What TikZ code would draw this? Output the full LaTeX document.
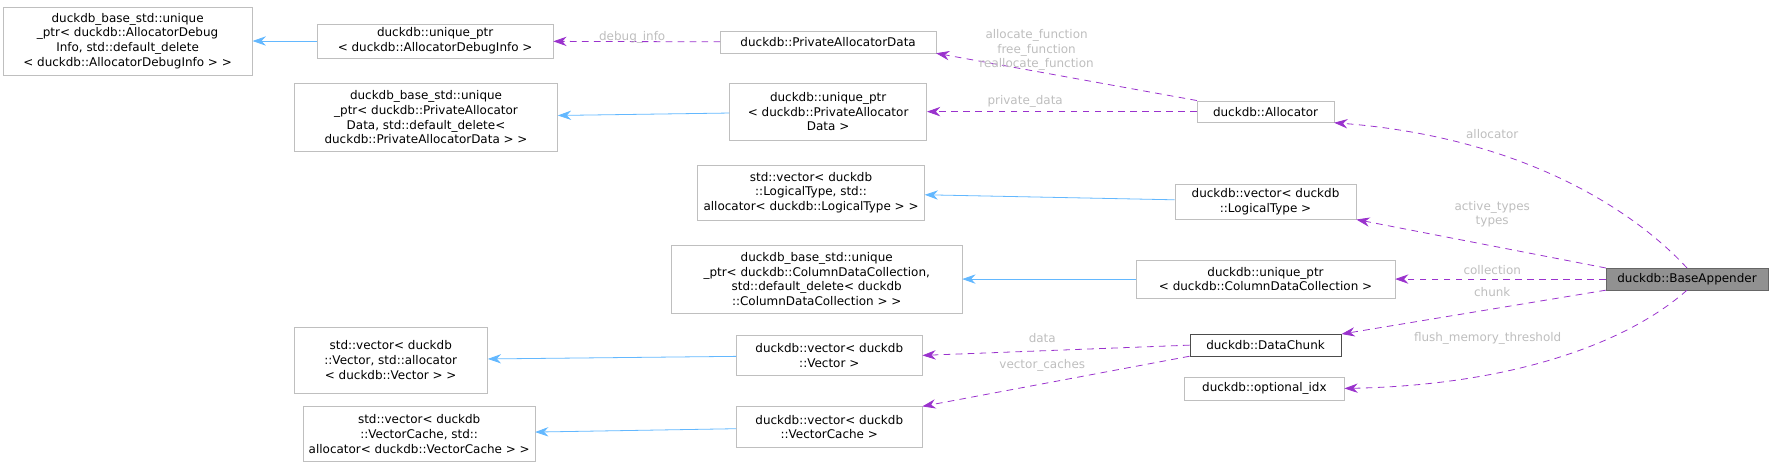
\documentclass[tikz,border=0pt]{standalone}
\usepackage{fontspec}
\setmainfont{DejaVu Sans}
\usepackage{tikz}
\usetikzlibrary{arrows.meta}
\definecolor{boxgray}{RGB}{191,191,191}
\definecolor{inherit}{RGB}{99,184,255}
\definecolor{usage}{RGB}{154,50,205}
\definecolor{lblgray}{RGB}{190,190,190}

\tikzset{
 cls/.style={draw=boxgray, fill=white, align=center, inner sep=1pt, font=\fontsize{9pt}{11pt}\selectfont},
 base/.style={-{Stealth[length=10pt,width=7pt]}, inherit, line width=0.6pt},
 use/.style={-{Stealth[length=10pt,width=7pt]}, usage, dashed, dash pattern=on 5pt off 4pt, line width=0.6pt},
 lbl/.style={text=lblgray, align=center, font=\fontsize{9pt}{11pt}\selectfont}
}

\begin{document}
\begin{tikzpicture}[x=0.0301cm, y=-0.0301cm]
\useasboundingbox (0,0) rectangle (1553,406.5);

% classes
\path
(112,36) node[cls, minimum width=219*0.0301cm, minimum height=60*0.0301cm](dbgbase) {duckdb\_base\_std::unique\\\_ptr< duckdb::AllocatorDebug\\Info, std::default\_delete\\< duckdb::AllocatorDebugInfo > >}
(382,36) node[cls, minimum width=207*0.0301cm, minimum height=30*0.0301cm](dbgptr) {duckdb::unique\_ptr\\< duckdb::AllocatorDebugInfo >}
(727,37) node[cls, minimum width=189*0.0301cm, minimum height=19*0.0301cm](privdata) {duckdb::PrivateAllocatorData}
(374,103) node[cls, minimum width=231*0.0301cm, minimum height=60*0.0301cm](privbase) {duckdb\_base\_std::unique\\\_ptr< duckdb::PrivateAllocator\\Data, std::default\_delete<\\ duckdb::PrivateAllocatorData > >}
(727,98) node[cls, minimum width=173*0.0301cm, minimum height=50*0.0301cm](privptr) {duckdb::unique\_ptr\\< duckdb::PrivateAllocator\\Data >}
(1111,98) node[cls, minimum width=120*0.0301cm, minimum height=19*0.0301cm](alloc) {duckdb::Allocator}
(712,169) node[cls, minimum width=199*0.0301cm, minimum height=48*0.0301cm](ltstd) {std::vector< duckdb\\::LogicalType, std::\\allocator< duckdb::LogicalType > >}
(1111,177) node[cls, minimum width=159*0.0301cm, minimum height=31*0.0301cm](ltvec) {duckdb::vector< duckdb\\::LogicalType >}
(717,245) node[cls, minimum width=255*0.0301cm, minimum height=60*0.0301cm](cdcbase) {duckdb\_base\_std::unique\\\_ptr< duckdb::ColumnDataCollection,\\ std::default\_delete< duckdb\\::ColumnDataCollection > >}
(1111,245) node[cls, minimum width=227*0.0301cm, minimum height=33*0.0301cm](cdcptr) {duckdb::unique\_ptr\\< duckdb::ColumnDataCollection >}
(1481,245) node[cls, draw=black!60, fill=black!43, minimum width=142*0.0301cm, minimum height=19*0.0301cm](appender) {duckdb::BaseAppender}
(1111,303) node[cls, draw=black!70, minimum width=133*0.0301cm, minimum height=19*0.0301cm](chunk) {duckdb::DataChunk}
(1110,341) node[cls, minimum width=140*0.0301cm, minimum height=20*0.0301cm](optidx) {duckdb::optional\_idx}
(343,316) node[cls, minimum width=170*0.0301cm, minimum height=58*0.0301cm](vecstd) {std::vector< duckdb\\::Vector, std::allocator\\< duckdb::Vector > >}
(728,312) node[cls, minimum width=163*0.0301cm, minimum height=35*0.0301cm](vecvec) {duckdb::vector< duckdb\\::Vector >}
(368,381) node[cls, minimum width=203*0.0301cm, minimum height=48*0.0301cm](cachestd) {std::vector< duckdb\\::VectorCache, std::\\allocator< duckdb::VectorCache > >}
(728,375) node[cls, minimum width=163*0.0301cm, minimum height=36*0.0301cm](cachevec) {duckdb::vector< duckdb\\::VectorCache >};

%% inheritance
\draw[base] (dbgptr) -- (dbgbase);
\draw[base] (privptr) -- (privbase);
\draw[base] (ltvec) -- (ltstd);
\draw[base] (cdcptr) -- (cdcbase);
\draw[base] (vecvec) -- (vecstd);
\draw[base] (cachevec) -- (cachestd);

%% members
\draw[use] (privdata) -- (dbgptr);
\draw[use] (alloc.north west) -- (privdata.south east);
\draw[use] (alloc) -- (privptr);
\draw[use] (appender.north) .. controls (1430,180) and (1330,120) .. (alloc.south east);
\draw[use] (appender.north west) -- (ltvec.south east);
\draw[use] (appender) -- (cdcptr);
\draw[use] (appender.south west) -- (chunk.north east);
\draw[use] (appender.south) .. controls (1430,300) and (1330,338) .. (optidx.east);
\draw[use] (chunk.west) -- (vecvec.east);
\draw[use] (chunk.south west) -- (cachevec.north east);

%% labels
\path
(555,33) node[lbl](l1) {debug\_info}
(910,44) node[lbl](l2) {allocate\_function\\free\_function\\reallocate\_function}
(900,89) node[lbl](l3) {private\_data}
(1310,118) node[lbl](l4) {allocator}
(1310,188) node[lbl](l5) {active\_types\\types}
(1310,237) node[lbl](l6) {collection}
(1310,256) node[lbl](l7) {chunk}
(1306,297) node[lbl](l8) {flush\_memory\_threshold}
(915,297) node[lbl](l9) {data}
(915,321) node[lbl](l10) {vector\_caches};

\end{tikzpicture}
\end{document}
